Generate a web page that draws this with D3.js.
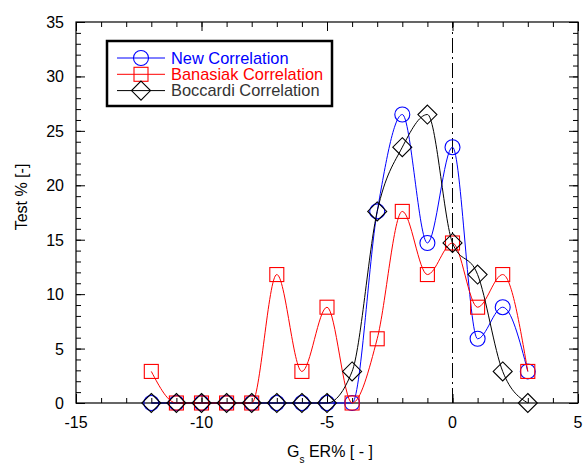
<!DOCTYPE html>
<html>
<head>
<meta charset="utf-8">
<script src="https://cdn.jsdelivr.net/npm/d3@7"></script>
<style>
  body { margin: 0; background: #fff; }
  text { font-family: "Liberation Sans", Arial, sans-serif; }
</style>
</head>
<body>
<div id="chart"></div>
<script>
// data
var xs        = [-12, -11, -10, -9, -8, -7, -6, -5, -4, -3, -2, -1, 0, 1, 2, 3];
var newCorr   = [0, 0, 0, 0, 0, 0, 0, 0, 0, 17.6, 26.5, 14.7, 23.5, 5.9, 8.8, 2.9];
var banasiak  = [2.9, 0, 0, 0, 0, 11.8, 2.9, 8.8, 0, 5.9, 17.6, 11.8, 14.7, 8.8, 11.8, 2.9];
var boccardi  = [0, 0, 0, 0, 0, 0, 0, 0, 2.9, 17.6, 23.5, 26.5, 14.7, 11.8, 2.9, 0];
var seriesNames = ["New Correlation", "Banasiak Correlation", "Boccardi Correlation"];
var xTicks = [-15, -10, -5, 0, 5];
var yTicks = [0, 5, 10, 15, 20, 25, 30, 35];

var W = 585, H = 465;
var margin = {top: 22, right: 7, bottom: 62, left: 76},
    width = W - margin.left - margin.right,
    height = H - margin.top - margin.bottom;

var svg = d3.select("#chart").append("svg")
    .attr("width", W).attr("height", H);
var g = svg.append("g")
    .attr("transform", "translate(" + margin.left + "," + margin.top + ")");

var x = d3.scaleLinear().domain([-15, 5]).range([0, width]);
var y = d3.scaleLinear().domain([0, 35]).range([height, 0]);

// minor + major ticks, pointing inward, on all four sides
function ticks(axisFn, scale, vals, len, transform) {
  var a = g.append("g").attr("transform", transform || null)
    .call(axisFn(scale).tickValues(vals).tickSize(len).tickFormat(""));
  a.select(".domain").remove();
  a.selectAll("line").attr("stroke", "#000");
}
var xMinor = d3.range(-15, 5.01, 1), yMinor = d3.range(0, 35.01, 1);
ticks(d3.axisTop, x, xMinor, 5, "translate(0," + height + ")");
ticks(d3.axisTop, x, xTicks, 9, "translate(0," + height + ")");
ticks(d3.axisBottom, x, xMinor, 5);
ticks(d3.axisBottom, x, xTicks, 9);
ticks(d3.axisRight, y, yMinor, 5);
ticks(d3.axisRight, y, yTicks, 9);
ticks(d3.axisLeft, y, yMinor, 5, "translate(" + width + ",0)");
ticks(d3.axisLeft, y, yTicks, 9, "translate(" + width + ",0)");

g.append("rect").attr("width", width).attr("height", height)
  .attr("fill", "none").attr("stroke", "#000").attr("stroke-width", 1.2);

// tick labels
g.selectAll(".xl").data(xTicks).enter().append("text")
  .attr("x", d => x(d)).attr("y", height + 25)
  .attr("text-anchor", "middle").style("font-size", "16px").text(d => d);
g.selectAll(".yl").data(yTicks).enter().append("text")
  .attr("x", -12).attr("y", d => y(d) + 6)
  .attr("text-anchor", "end").style("font-size", "16px").text(d => d);

// axis titles
var xt = svg.append("text").attr("x", 287).attr("y", 457).style("font-size", "16px");
xt.append("tspan").text("G");
xt.append("tspan").attr("dy", 6).style("font-size", "10px").text("s");
xt.append("tspan").attr("dy", -6).text(" ER% [ - ]");
svg.append("text").attr("transform", "translate(27,197) rotate(-90)")
  .attr("text-anchor", "middle").style("font-size", "16px").text("Test % [-]");

// dash-dot line at zero
g.append("line").attr("x1", x(0)).attr("x2", x(0)).attr("y1", y(0)).attr("y2", y(35))
  .attr("stroke", "#000").attr("stroke-dasharray", "15,4,2,4");

var line = d3.line().x(d => x(d[0])).y(d => y(d[1])).curve(d3.curveMonotoneX);

var series = [
  {name: seriesNames[0], vals: newCorr, color: "#0000ff", sym: "circle"},
  {name: seriesNames[1], vals: banasiak, color: "#ff0000", sym: "square"},
  {name: seriesNames[2], vals: boccardi, color: "#000000", sym: "diamond"}
];

function marker(sel, s, cx, cy) {
  if (s.sym == "circle") {
    sel.append("circle").attr("cx", cx).attr("cy", cy).attr("r", 7.5);
  } else if (s.sym == "square") {
    sel.append("rect").attr("x", cx - 7).attr("y", cy - 7).attr("width", 14).attr("height", 14);
  } else {
    sel.append("path").attr("d", "M" + cx + "," + (cy - 9.5) + "L" + (cx + 9.5) + "," + cy +
      "L" + cx + "," + (cy + 9.5) + "L" + (cx - 9.5) + "," + cy + "Z");
  }
}

series.forEach(function (s) {
  var pts = xs.map((v, i) => [v, s.vals[i]]);
  g.append("path").datum(pts).attr("d", line)
    .attr("fill", "none").attr("stroke", s.color).attr("stroke-width", 1);
  var m = g.append("g").attr("fill", "none").attr("stroke", s.color).attr("stroke-width", 1.1);
  pts.forEach(p => marker(m, s, x(p[0]), y(p[1])));
});

// legend
var lg = svg.append("g");
lg.append("rect").attr("x", 107).attr("y", 41).attr("width", 225).attr("height", 65)
  .attr("fill", "#fff").attr("stroke", "#000").attr("stroke-width", 2.5);
var textCol = ["#0000ff", "#ff0000", "#333333"];
series.forEach(function (s, i) {
  var ly = 58 + i * 16.3;
  lg.append("line").attr("x1", 117).attr("x2", 165).attr("y1", ly).attr("y2", ly)
    .attr("stroke", s.color);
  var m = lg.append("g").attr("fill", "none").attr("stroke", s.color).attr("stroke-width", 1.1);
  marker(m, s, 141, ly);
  lg.append("text").attr("x", 171).attr("y", ly + 5.5).attr("fill", textCol[i])
    .style("font-size", "16.4px").text(s.name);
});
</script>
</body>
</html>
